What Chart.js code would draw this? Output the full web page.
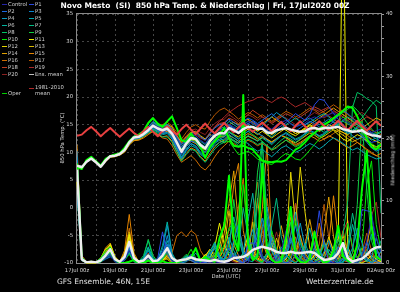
<!DOCTYPE html>
<html>
<head>
<meta charset="utf-8">
<script src="https://cdn.jsdelivr.net/npm/chart.js@4.4.1/dist/chart.umd.min.js"></script>
<style>
html, body { margin: 0; padding: 0; background: #000; }
#wrap { position: relative; width: 400px; height: 292px; overflow: hidden; background: #000; font-family: "DejaVu Sans", sans-serif; color: #d8d8d8; }
#c { position: absolute; left: 0; top: 0; }
.t { position: absolute; white-space: nowrap; line-height: 1; }
.lg { position: absolute; font-size: 5.3px; line-height: 1; white-space: nowrap; color: #d0d0d0; }
.lg i { position: absolute; left: -6px; top: 2.5px; width: 5px; height: 1px; }
</style>
</head>
<body>
<div id="wrap">
  <canvas id="c" width="400" height="292"></canvas>
  <div class="t" style="left:205px;top:2px;transform:translateX(-50%);font-weight:bold;font-size:7.5px;color:#fff">Novo Mesto&nbsp; (SI)&nbsp; 850 hPa Temp. &amp; Niederschlag | Fri, 17Jul2020 00Z</div>
  <div class="t" style="left:63px;top:138px;transform:translate(-50%,-50%) rotate(-90deg);font-size:5.3px">850 hPa Temp. (°C)</div>
  <div class="t" style="left:393px;top:160px;transform:translate(-50%,-50%) rotate(-90deg);font-size:5.3px">Niederschlag (mm)</div>
  <div class="t" style="left:226px;top:274px;transform:translateX(-50%);font-size:5.3px">Date (UTC)</div>
  <div class="t" style="left:57px;top:278px;font-size:7.5px;color:#e0e0e0">GFS Ensemble, 46N, 15E</div>
  <div class="t" style="left:306px;top:278px;font-size:7.5px;color:#e0e0e0">Wetterzentrale.de</div>
  <div id="legend"></div>
</div>
<script>
// forecast hours, 6-hourly from 17Jul 00z
const hours = [0,6,12,18,24,30,36,42,48,54,60,66,72,78,84,90,96,102,108,114,120,126,132,138,144,150,156,162,168,174,180,186,192,198,204,210,216,222,228,234,240,246,252,258,264,270,276,282,288,294,300,306,312,318,324,330,336,342,348,354,360,366,372,378,384];
const dateLabels = ['17Jul 00z','19Jul 00z','21Jul 00z','23Jul 00z','25Jul 00z','27Jul 00z','29Jul 00z','31Jul 00z','02Aug 00z'];

const memberNames = ['Control','P1','P2','P3','P4','P5','P6','P7','P8','P9','P10','P11','P12','P13','P14','P15','P16','P17','P18','P19','P20'];
const memberColors = ['#2424a8','#2848e0','#1c68e0','#0a84d0','#0898c0','#00a8b0','#00b4a0','#00bc84','#00c464','#10d040','#00ec00','#f0f000','#e4d400','#d8b800','#e0a000','#e48400','#cc6c00','#b85800','#c03c20','#a82828','#8c2020'];

// 850 hPa temperature (°C)
const tMean = [7.6,7.3,8.3,8.9,8.2,7.4,8.5,9.3,9.4,9.7,10.4,11.8,12.7,12.8,13.3,14.0,14.8,14.3,14.0,14.3,13.4,11.8,10.1,11.6,12.6,12.4,11.3,10.7,12.1,13.0,13.5,13.4,14.4,14.0,13.5,14.2,14.6,14.6,14.2,14.3,13.6,13.5,14.0,14.2,14.4,14.1,13.9,13.7,13.8,14.3,14.4,14.2,14.4,14.4,14.5,14.6,14.2,14.0,13.7,13.8,14.0,13.4,13.1,13.0,12.8];
const tClim = [13.0,13.2,14.0,14.6,13.8,12.9,13.7,14.4,13.6,12.8,13.6,14.3,13.5,12.9,13.8,14.6,13.7,12.9,13.9,14.7,13.9,13.2,14.2,15.0,14.1,13.3,14.3,15.2,14.2,13.4,14.4,15.3,14.4,13.6,14.5,15.3,14.5,13.7,14.6,15.4,14.6,13.8,14.7,15.5,14.6,13.8,14.8,15.6,14.7,13.9,14.8,15.6,14.8,14.0,14.9,15.7,14.8,14.0,14.9,15.7,14.7,13.9,14.8,15.6,14.8];
const tOper = [7.3,7.0,8.6,9.2,8.4,7.6,8.8,9.3,9.6,9.8,10.8,12.0,12.8,13.2,13.8,15.3,16.2,15.2,14.6,15.6,16.5,14.4,12.2,11.9,13.4,12.2,11.0,9.0,11.0,12.0,13.0,14.4,12.5,11.2,11.0,11.2,10.8,10.5,9.5,8.5,8.3,8.2,8.4,8.3,8.6,9.5,10.5,11.0,11.8,12.8,13.5,14.2,15.0,15.5,16.2,16.8,17.5,18.3,18.0,16.5,14.5,12.5,11.0,10.5,11.5];
const tControl = [7.7,7.4,8.4,9.0,8.3,7.5,8.6,9.4,9.5,9.8,10.5,11.9, 12.9,13.0,13.6,14.4,15.2,14.6,14.5,14.6,13.8, 12.5,10.8,11.9,13.1,13.0,12.2,11.6,12.8,13.6,14.2, 14.0,15.1,14.6,14.1,15.0,15.6,15.2,14.8,15.3,14.6,14.2,15.0,15.4,15.8,15.1,14.6,14.9,15.3,16.0,16.4,16.1,16.5,16.8,17.2,16.6,15.9,15.4,15.0,15.6,15.2,14.4,13.6,13.9,14.2];
const tP1 = [7.5,7.2,8.2,8.8,8.1,7.3,8.4,9.2,9.3,9.6,10.3,11.6, 12.5,12.6,13.1,13.8,14.5,14.0,13.6,14.0,13.0, 11.2,9.6,11.0,12.0,11.8,10.6,10.0,11.4,12.5,13.2, 13.6,14.8,14.2,13.6,14.6,15.2,15.6,15.0,14.6,14.0,13.4,14.2,14.8,15.4,16.2,17.0,16.4,15.8,16.8,18.6,19.6,19.4,18.2,17.0,16.0,15.0,14.2,13.6,13.8,13.0,12.4,11.8,12.0,12.8];
const tP2 = [7.6,7.3,8.3,8.9,8.2,7.4,8.5,9.3,9.5,9.8,10.6,12.0, 13.0,13.2,13.8,14.6,15.6,15.0,14.8,15.0,14.2, 12.8,11.4,12.4,13.4,13.6,12.8,12.2,13.4,14.4,15.0, 15.2,16.0,15.4,14.8,15.6,16.2,15.8,15.2,15.8,16.4,17.0,16.2,15.4,14.6,14.0,13.8,14.4,15.0,15.6,15.2,14.6,14.2,14.8,15.6,16.6,17.6,17.0,16.2,15.4,14.8,14.0,13.4,13.0,12.6];
const tP3 = [7.7,7.4,8.4,9.1,8.4,7.6,8.7,9.4,9.5,9.8,10.4,11.7, 12.6,12.7,13.2,13.9,14.6,14.0,13.4,13.6,12.6, 10.8,9.0,10.4,11.6,11.2,10.0,9.4,10.8,11.8,12.4, 12.8,13.6,13.0,12.4,13.2,13.8,14.0,13.4,13.0,12.2,11.6,12.4,13.0,13.4,12.8,12.2,12.6,13.4,14.0,13.6,13.0,13.4,14.2,14.8,15.4,14.6,13.8,13.0,12.4,12.8,11.8,10.8,10.2,10.6];
const tP4 = [7.5,7.2,8.2,8.8,8.1,7.3,8.4,9.2,9.4,9.7,10.4,11.8, 12.8,13.0,13.5,14.2,15.0,14.5,14.2,14.6,13.6, 12.0,10.4,11.8,12.8,12.6,11.6,11.0,12.4,13.4,14.0, 14.2,15.0,14.4,13.8,14.8,15.2,14.6,14.0,14.8,15.6,16.4,17.2,16.6,16.0,15.2,14.6,15.0,15.8,16.2,15.6,15.0,15.4,16.0,15.4,14.6,14.0,13.4,13.8,14.4,13.6,12.8,12.2,12.6,13.0];
const tP5 = [7.6,7.3,8.2,8.8,8.2,7.4,8.4,9.2,9.3,9.6,10.2,11.5, 12.4,12.5,13.0,13.6,14.2,13.6,13.2,13.4,12.4, 10.6,8.8,10.2,11.2,10.8,9.6,9.0,10.4,11.6,12.2, 12.4,13.2,12.6,12.0,12.0,11.6,10.8,10.2,10.6,9.8,9.2,10.0,10.8,11.2,10.6,10.0,10.4,11.0,11.6,11.2,10.6,11.2,12.0,12.6,12.2,11.6,11.0,10.4,10.8,10.2,9.6,9.2,8.8,9.0];
const tP6 = [7.7,7.4,8.4,9.0,8.3,7.5,8.6,9.4,9.5,9.8,10.6,12.0, 13.0,13.2,13.8,14.5,15.4,14.8,14.6,15.0,14.0, 12.6,11.0,12.2,13.2,13.0,12.0,11.4,12.8,13.6,14.2, 14.6,15.6,15.0,14.4,15.0,15.6,15.2,14.6,14.2,13.4,12.8,13.6,14.4,15.0,15.6,16.2,15.6,15.0,15.4,16.0,16.6,17.0,16.4,15.6,14.8,14.2,13.6,14.0,14.6,15.2,14.4,13.6,13.2,13.6];
const tP7 = [7.6,7.3,8.3,8.9,8.2,7.4,8.5,9.3,9.4,9.7,10.4,11.7, 12.6,12.7,13.2,13.8,14.4,13.8,13.4,13.6,12.8, 11.0,9.2,10.6,11.6,11.0,9.8,9.2,10.4,11.2,11.8, 12.0,12.8,12.2,11.6,12.4,13.0,12.6,12.0,12.6,12.0,11.4,12.2,13.0,13.6,13.0,12.4,12.8,13.4,14.0,14.6,14.2,13.6,14.0,14.6,15.2,15.8,16.4,15.8,15.0,14.2,13.6,13.0,12.4,12.0];
const tP8 = [7.5,7.2,8.3,8.9,8.2,7.4,8.5,9.3,9.4,9.7,10.3,11.6, 12.4,12.5,12.9,13.5,14.0,13.4,12.8,12.8,11.8, 10.0,8.4,9.6,10.6,10.2,9.0,8.2,9.4,10.6,11.4, 11.8,12.6,12.0,11.2,11.8,12.4,12.0,11.4,11.8,11.2,10.6,11.4,12.2,12.8,12.4,11.8,12.4,13.2,13.8,13.4,12.8,13.2,13.8,14.4,15.0,15.6,15.2,14.6,15.4,16.2,17.4,18.6,19.4,18.8];
const tP9 = [7.7,7.4,8.4,9.0,8.3,7.5,8.6,9.4,9.5,9.8,10.5,11.9, 12.8,12.9,13.4,14.2,15.0,14.4,14.0,14.2,13.2, 11.4,9.8,11.2,12.2,11.8,10.6,10.0,11.4,12.4,13.0, 13.0,13.8,13.2,12.4,13.2,13.8,13.2,12.6,12.0,11.2,10.4,10.8,11.6,12.2,11.6,11.0,11.4,12.2,13.0,13.6,14.2,14.8,15.4,16.0,16.6,17.2,17.8,18.4,17.6,16.6,15.4,14.2,13.4,13.8];
const tP10 = [7.4,7.1,8.2,8.9,8.1,7.3,8.4,9.3,9.5,9.8,10.5,11.9, 12.9,13.1,13.7,14.6,15.4,14.8,14.6,15.0,14.2, 12.4,10.6,11.8,12.8,12.4,11.2,10.4,11.6,12.4,12.8, 11.8,12.0,10.8,9.6,9.8,10.2,9.6,8.8,8.4,8.0,7.8,8.4,9.2,9.8,9.4,8.8,8.6,9.4,10.4,11.4,12.4,13.2,14.0,14.8,15.6,16.4,15.6,14.8,14.0,13.2,12.4,11.6,11.0,10.6];
const tP11 = [7.6,7.3,8.3,8.8,8.1,7.3,8.4,9.2,9.3,9.6,10.3,11.7, 12.6,12.8,13.3,14.0,14.8,14.2,13.8,14.2,13.4, 11.8,10.2,11.4,12.4,12.2,11.0,10.4,11.8,12.8,13.4, 13.6,14.4,14.0,13.4,14.2,14.8,14.4,13.8,14.4,13.8,13.2,13.8,14.4,14.0,13.4,13.0,13.6,14.2,14.8,14.4,13.8,14.2,14.6,14.0,13.2,12.4,12.0,12.6,13.2,12.8,12.0,11.4,11.0,11.4];
const tP12 = [7.5,7.2,8.2,8.8,8.1,7.3,8.4,9.2,9.3,9.6,10.2,11.5, 12.4,12.5,13.0,13.8,14.6,14.0,13.8,14.0,13.0, 11.4,9.8,11.0,12.0,11.6,10.6,10.0,11.2,12.2,12.8, 12.8,13.6,13.2,12.8,13.6,14.2,13.8,13.2,13.8,13.2,12.6,13.2,13.8,14.4,14.0,13.4,13.8,14.4,15.0,14.6,14.0,14.4,15.0,14.6,14.0,13.6,13.2,13.8,14.2,13.6,13.0,12.4,12.0,11.6];
const tP13 = [7.7,7.4,8.4,9.0,8.3,7.5,8.6,9.4,9.5,9.8,10.4,11.8, 12.8,13.0,13.5,14.3,15.2,14.8,14.6,15.0,14.6, 13.0,11.8,12.8,13.6,13.8,13.0,12.4,13.2,12.8,12.2, 11.7,12.5,12.1,11.7,12.3,12.9,12.5,12.1,12.7,12.3,11.9,12.5,13.1,12.7,12.1,11.7,12.3,12.9,13.5,13.1,12.5,12.9,13.5,14.1,13.7,13.1,12.5,11.9,12.3,12.7,12.1,11.3,10.7,11.1];
const tP14 = [7.6,7.3,8.3,8.9,8.2,7.4,8.5,9.2,9.3,9.5,10.1,11.4, 12.2,12.3,12.8,13.6,14.2,13.8,13.6,13.8,13.0, 11.6,10.2,11.2,12.2,12.0,11.0,10.4,11.8,12.8,13.6, 14.0,15.0,15.4,15.0,15.6,16.0,15.4,14.8,15.2,15.8,16.4,15.8,15.2,14.6,14.0,13.4,13.8,14.4,15.0,15.6,16.2,16.8,17.4,18.0,17.4,16.8,16.2,15.6,15.0,14.4,15.0,15.6,16.2,15.8];
const tP15 = [7.5,7.2,8.2,8.8,8.1,7.3,8.3,9.1,9.2,9.5,10.0,11.3, 12.1,12.2,12.6,13.2,13.8,13.2,12.8,13.0,12.0, 10.2,8.6,9.8,10.8,10.4,9.2,8.4,9.8,11.0,11.8, 12.2,13.0,12.6,12.0,12.8,13.4,13.0,12.4,13.0,12.4,11.8,12.4,13.0,12.6,12.0,11.4,11.8,12.4,13.0,12.6,12.0,12.4,13.0,12.6,12.0,11.4,10.8,11.2,11.8,11.2,10.4,9.8,9.4,9.8];
const tP16 = [7.6,7.3,8.3,8.9,8.2,7.4,8.4,9.2,9.3,9.6,10.2,11.5, 12.3,12.4,12.9,13.4,13.8,13.2,12.6,12.4,11.2, 9.6,8.2,8.8,9.4,8.6,7.4,6.8,7.8,9.2,10.4, 11.2,12.0,11.6,11.0,11.6,12.2,11.8,11.2,11.6,11.0,10.4,11.0,11.6,12.2,11.8,11.2,11.6,12.2,12.8,13.4,13.0,12.4,12.8,13.4,14.0,13.6,13.0,12.4,11.8,11.2,10.6,10.0,9.4,9.0];
const tP17 = [7.7,7.4,8.4,9.0,8.3,7.5,8.6,9.4,9.5,9.8,10.6,12.0, 13.0,13.2,13.8,14.6,15.4,15.0,15.0,15.4,14.8, 13.6,12.4,13.6,14.6,15.0,14.4,14.2,15.6,16.8,17.6, 18.0,17.4,16.8,16.0,16.6,17.2,16.8,16.2,16.8,16.2,15.6,16.2,16.8,17.4,17.0,16.4,16.8,17.4,18.0,17.6,17.0,17.4,18.0,18.6,18.0,17.4,16.8,16.2,15.6,15.0,14.4,14.0,13.6,13.2];
const tP18 = [7.6,7.3,8.3,8.9,8.2,7.4,8.5,9.3,9.4,9.7,10.4,11.8, 12.8,12.9,13.4,14.2,15.0,14.6,14.4,14.8,14.2, 13.0,11.6,12.6,13.6,13.6,12.8,12.4,13.6,14.6,15.2, 15.4,16.2,15.8,15.2,16.0,16.8,17.6,17.0,16.4,15.8,15.2,15.8,16.4,17.0,16.6,16.0,16.4,17.0,17.6,18.2,17.8,17.2,16.6,16.0,15.4,14.8,14.2,14.6,15.2,15.8,16.4,16.0,15.4,15.0];
const tP19 = [7.5,7.2,8.2,8.8,8.1,7.3,8.4,9.2,9.3,9.6,10.3,11.7, 12.6,12.7,13.2,14.0,14.8,14.4,14.2,14.6,13.8, 12.4,11.0,12.0,13.0,13.2,12.6,12.2,13.4,14.6,15.6, 16.4,17.2,17.8,18.4,18.8,19.2,19.4,19.9,20.0,19.4,19.0,19.6,20.0,19.6,18.8,18.2,18.6,19.0,18.4,17.8,17.4,17.8,18.2,17.6,17.0,16.4,15.8,15.2,14.6,14.2,13.8,13.4,13.0,12.6];
const tP20 = [7.7,7.4,8.4,9.0,8.3,7.5,8.6,9.4,9.5,9.8,10.5,11.9, 12.9,13.0,13.6,14.4,15.2,14.8,14.6,15.0,14.4, 13.2,12.0,13.0,14.0,14.2,13.6,13.2,14.4,15.2,15.8, 16.0,16.8,16.2,15.6,16.2,16.8,16.4,15.8,16.4,16.0,15.4,16.0,16.6,16.2,15.6,15.0,15.4,16.0,16.6,17.2,16.8,16.2,16.8,17.4,17.0,16.4,15.8,16.2,16.8,17.2,16.6,16.0,15.4,15.8];

// precipitation per 6 h (mm)
const rMean = [15,0.6,0.1,0.2,0.1,0.4,1.2,2.2,0.6,0.2,1.0,3.4,0.8,0.2,0.4,1.2, 0.3,0.4,1.2,2.4,0.8,0.3,0.5,0.6,0.9,0.6,0.5,0.4,0.3,0.5,0.3,0.2, 0.4,0.8,0.9,1.0,1.4,2.1,2.4,2.6,2.4,2.2,1.8,1.6,1.6,1.8,1.6,1.6, 1.7,1.8,1.6,1.0,0.5,0.6,0.8,1.6,3.2,0.8,0.2,0.5,0.7,1.3,2.1,2.5,2.6];
const rOper = [16,0.8,0,0.2,0,0.3,1.2,1.9,0.6,0,0,0.2,0.5,0,0,0.4, 0,0,0.3,0,0,0,0.4,0.6,0.8,2.4,0.3,1.0,0.4,0.2,4.0,6.0, 14.0,4.0,2.0,27.0,3.0,0.5,1.0,16.0,2.0,0.5,0,0.3,4.0,9.0,1.0,0.2, 0,0.6,5.0,1.0,0,0.3,2.0,6.0,1.0,0.4,0,3.0,12.0,18.0,6.0,1.0,0.5];
const rControl = [14,0.6,0,0,0,0.2,0.8,1.2,0.2,0,0.4,2.0,0.6,0,0.2,0.8, 0,0.2,1.6,2.2,0.4,0,0.2,0.4,0.6,0.2,0,0.3,0,0.2,0,0, 0.2,0.8,1.4,0.6,0,2.2,3.8,1.0,0.2,0,0.6,1.8,5.2,2.0,0.8,2.4, 1.0,0.2,0,0.4,0.2,0,0,1.2,2.0,0.4,0,0,0.8,3.6,7.4,4.2,1.8];
const rP1 = [16,0.8,0,0.2,0,0.3,1.0,1.6,0.4,0,0.6,2.6,0.8,0.2,0,0.6, 0.2,0.8,5.0,1.4,0.2,0,0.3,0.6,1.2,0.8,0.2,0,0.4,0.6,0,0.2, 0.6,1.2,0.4,0,3.2,3.2,3.0,0.8,0,0.4,1.4,0.6,0,0.2,1.0,0.6, 0,0.4,2.6,8.4,3.0,0.4,0,0,0.8,0.2,0,1.6,8.6,8.4,8.2,2.4,0.6];
const rP2 = [12,0.4,0,0,0.2,0.6,1.4,2.0,0.6,0,0.8,3.0,0.6,0,0.4,1.2, 0.2,0.4,1.8,3.0,0.8,0.2,0.6,0.8,0.4,0,0,0.2,0.6,1.0,0.4,0.8, 2.4,1.0,0.2,0,0.6,2.0,5.6,2.4,7.0,2.2,0.2,0.8,2.2,4.0,1.6,0.2, 0,0.6,1.8,0.8,0,0,0.4,2.6,1.2,0.2,0,0.6,1.4,3.4,1.0,0.2,0];
const rP3 = [18,1.0,0.2,0,0,0.2,0.6,1.0,0.4,0.2,1.2,2.8,0.4,0,0.6,2.0, 0.4,0,1.2,4.4,1.0,0,0.2,0.6,1.4,0.6,0,0.4,1.6,2.2,0.6,0.2, 0.8,3.6,6.2,2.0,0.4,1.2,4.6,7.2,3.0,0.6,0,0.4,1.0,3.4,6.0,2.4, 0.6,0,0.8,2.2,0.6,0,1.4,4.8,2.0,0.4,0,0.2,1.0,0.6,0,0.4,1.2];
const rP4 = [13,0.6,0,0.2,0,0.4,1.2,1.8,0.6,0,0.6,2.2,1.0,0.2,0.2,1.0, 0,0.6,2.2,6.0,1.4,0,0,0.2,0.8,1.6,0.4,0,1.0,3.2,0.8,0, 0.4,1.6,0.6,0,2.8,5.4,2.0,0.6,1.4,4.2,1.8,0.2,0,0.6,2.8,6.4, 2.6,0.6,0,0.4,1.8,3.6,1.2,0,0.2,0.8,2.4,5.6,3.2,0.8,0,0.6,2.0];
const rP5 = [15,0.8,0,0,0,0.2,0.8,1.4,0.2,0,0.4,1.8,0.6,0.2,0.8,2.6, 0.6,0,1.0,3.6,0.8,0.2,0.4,1.2,0.6,0,0,0.6,2.0,3.0,1.0,0.4, 3.0,7.4,4.0,1.2,0.4,0.2,1.6,5.8,9.0,3.4,1.0,0.2,0.8,4.4,8.2,3.6, 1.0,0.4,0,1.2,3.4,1.6,0.4,0,0.6,2.2,0.8,0,0.4,1.8,4.6,2.0,0.6];
const rP6 = [11,0.4,0.2,0,0,0.4,1.0,2.4,0.8,0,0.8,2.4,0.4,0,0.4,1.4, 0.2,0.4,2.8,6.6,1.6,0.2,0,0.4,0.6,0.2,0.4,1.0,0.4,0.2,0.6,1.4, 4.2,2.0,0.6,1.6,6.8,11.2,4.6,1.2,0.4,0,0.8,2.6,1.4,0.4,0,0.6, 2.2,5.6,2.4,0.6,0,0.4,1.6,0.8,0.2,1.8,6.2,3.0,1.0,0.2,0.8,4.0,1.6];
const rP7 = [17,0.8,0,0,0.2,0.6,1.6,2.2,0.4,0,0.6,1.6,0.2,0,0.6,2.4, 0.8,0.2,0.6,2.2,0.6,0,0.4,1.0,0.8,0.2,0,0.2,1.2,2.6,0.8,0.6, 1.8,0.8,2.6,8.8,4.4,1.2,0.4,0,1.2,6.0,10.4,4.2,1.4,0.4,0,0.8, 3.2,1.2,0.4,0,0.8,2.2,1.0,0.4,0,2.6,8.0,4.2,1.2,0.4,0.2,1.4,3.6];
const rP8 = [12,0.6,0,0,0,0.2,0.8,1.2,0.6,0.2,1.0,3.0,0.8,0.2,1.2,3.6, 0.8,0.2,1.4,3.0,0.8,0,0.2,0.4,0.6,0.2,0,0.4,0.8,1.6,3.2,1.0, 0.4,2.4,5.0,1.8,0.6,1.4,9.6,19.4,7.6,2.0,0.6,0.2,1.2,3.8,1.4,0.4, 0,0.6,2.4,1.0,0.2,0,0.8,2.8,4.6,10.0,25.0,27.4,27.0,26.4,26.0,25.2,8.0];
const rP9 = [16,1.0,0.2,0,0,0.4,1.4,2.0,0.6,0.2,0.8,2.2,0.4,0,0.8,3.8, 1.2,0.2,0.8,1.8,0.4,0,0.6,1.4,0.8,0.2,0,0.6,1.8,3.4,1.2,0.4, 2.0,10.2,4.4,1.2,0.8,3.4,14.6,19.6,6.0,1.8,0.6,0.2,2.0,6.6,2.4,0.8, 0.2,1.2,4.8,2.0,0.4,0,1.0,3.8,1.6,0.4,1.6,9.4,23.0,12.0,3.6,1.0,0.4];
const rP10 = [14,0.6,0,0,0.2,0.8,2.0,2.6,0.8,0,0.4,1.4,0.2,0,0.6,2.2, 0.4,0,0.6,1.6,0.4,0,0.2,0.8,2.2,0.8,0.2,0,0.4,1.2,1.2,3.0, 5.6,6.4,2.2,12.6,4.0,1.0,0.4,0.2,1.6,5.2,2.2,0.6,0,1.4,6.8,3.2, 1.0,0.2,0,0.8,3.0,1.2,0.4,0,1.8,6.4,2.6,0.8,2.4,12.6,16.4,6.2,2.0];
const rP11 = [13,0.4,0,0,0,0.6,1.8,3.0,1.0,0.2,1.2,4.6,1.0,0.2,0.4,1.2, 0.2,0,0.4,1.2,0.2,0,0.4,1.0,0.6,0,0.2,1.4,0.8,2.6,6.4,3.0, 1.2,0.4,0.2,1.6,4.4,1.4,0.6,0.2,0.8,3.2,1.0,0.2,0.6,2.0,0.8,0.2, 0,0.4,1.2,0.4,0,0.6,2.4,4.0,60.0,2.6,0.8,0.2,0,0.4,1.2,0.6,0.2];
const rP12 = [15,0.8,0.2,0,0.2,0.8,2.2,2.8,0.8,0,1.0,4.2,0.8,0,0.2,0.6, 0,0.2,0.8,0.6,0,0,0.2,0.6,0.4,0.2,0.6,1.2,2.2,1.0,2.4,6.6, 3.0,1.0,0.4,0,0.6,2.2,0.8,0.4,1.6,4.0,1.8,0.8,2.6,14.6,6.0,15.4, 8.2,2.4,0.6,0.2,1.4,4.2,2.0,0.6,3.0,1.4,0.4,0,0.6,1.6,0.6,0.2,0];
const rP13 = [12,0.4,0,0.2,0,0.4,1.4,2.2,0.6,0.2,1.6,5.0,1.2,0.2,0,0.4, 0.2,0,0.6,1.0,0.2,0,0.4,0.6,0.8,0.4,0.2,1.0,2.2,1.4,0.8,2.6, 8.4,3.0,1.2,0.4,0.8,6.6,2.4,0.6,0.2,1.2,4.0,1.6,0.4,0,1.4,4.4, 1.6,0.4,0,1.0,3.6,1.6,0.6,1.4,4.4,1.8,0.6,0.2,0.8,3.2,6.2,2.4,0.8];
const rP14 = [17,1.0,0.2,0,0,0.6,2.4,3.2,1.0,0.2,1.2,4.4,0.8,0,0.4,1.0, 0.2,0,0.4,0.8,0.2,0,0.2,0.6,0.4,0.2,0.4,0.8,1.6,0.6,1.4,4.8, 9.6,14.8,6.0,2.2,0.8,3.6,10.4,3.6,1.2,0.4,1.6,6.0,2.4,0.8,0.2,0.6, 2.8,7.0,3.0,1.0,4.8,10.6,4.2,1.2,0.4,0.2,0.8,2.8,1.0,0.2,0,0.6,1.8];
const rP15 = [19,1.2,0.2,0,0,0.4,1.6,2.6,0.8,0.2,2.0,7.8,1.6,0.2,0.2,0.8, 0.2,0,0.6,1.4,0.4,0,0.2,0.4,0.6,0.2,0,0.4,1.0,0.4,0.8,2.2, 5.4,12.6,16.0,5.2,1.6,0.6,2.8,8.6,19.0,3.4,0.2,0.4,2.2,7.4,2.6,0.8, 0.2,1.4,5.2,2.0,0.6,3.0,10.8,4.0,1.2,0.4,0,0.6,2.4,1.0,0.2,0,0.4];
const rP16 = [14,0.6,0,0,0.2,0.8,2.2,3.0,0.8,0,1.4,5.6,1.0,0.2,0.4,1.2, 0.4,0,0.2,0.8,1.6,4.4,5.0,4.2,5.2,4.6,2.0,0.8,0.4,1.2,3.0,1.2, 0.6,2.8,9.0,13.6,5.0,1.4,0.4,1.8,10.4,4.6,1.2,0.4,0.2,1.0,4.2,1.6, 0.4,0,1.6,6.4,2.4,0.8,0.2,1.2,5.2,2.0,0.6,0.2,0.6,2.2,0.8,0.2,0];
const rP17 = [16,0.8,0,0,0,0.4,1.4,2.0,0.6,0,1.0,4.0,0.6,0,0.2,0.6, 0,0.2,0.8,1.8,0.6,0,0.2,0.6,1.2,0.4,0,0.2,0.4,0.8,0.4,1.2, 3.4,1.2,0.4,0.2,1.8,7.2,13.0,5.2,1.6,0.4,0.2,0.8,3.6,8.0,3.2,1.0, 0.4,0.2,0.8,3.0,9.4,4.2,1.4,0.6,2.0,1.0,0.2,0.6,1.8,4.8,2.0,0.6,0.2];
const rP18 = [13,0.6,0,0.2,0,0.2,0.8,1.6,0.4,0,0.6,2.4,0.6,0.2,0.6,1.6, 0.2,0.4,1.2,2.0,0.6,0,0.2,0.4,0.8,0.2,0,0.4,0.8,0.4,0.2,0.6, 1.0,0.4,0.2,0.6,2.0,0.8,1.4,5.8,2.6,0.8,0.2,0.6,1.8,4.6,9.6,3.8, 1.2,0.4,0.2,1.0,0.6,0.2,0.8,2.4,5.0,6.8,2.4,0.8,0.2,0.4,1.6,0.6,0.2];
const rP19 = [18,1.0,0.2,0,0,0.4,1.2,1.8,0.6,0,0.8,3.2,0.8,0,0.4,1.2, 0.4,0.2,0.8,1.4,0.4,0,0.2,0.4,0.6,0.2,0,0.2,0.6,0.4,0,0.2, 0.6,0.2,0,0.4,1.2,0.6,0.2,0,0.4,1.0,0.4,0,0.6,1.8,0.8,0.2, 0,0.4,1.2,0.6,0,0.2,0.8,0.4,1.4,6.8,2.2,1.0,0.4,2.6,7.6,9.8,4.0];
const rP20 = [15,0.6,0,0,0.2,0.4,1.0,1.6,0.4,0,0.6,2.6,0.4,0,0.2,0.8, 0.2,0,0.6,1.2,0.4,0,0.4,0.8,0.4,0,0.2,0.6,1.0,0.6,0.2,0.4, 1.2,0.6,0.2,0,0.8,2.6,1.2,0.4,0.6,2.4,5.0,2.2,0.6,0.2,9.6,4.0, 0.6,0.2,0,0.4,1.6,0.6,0.2,0.8,2.6,1.2,0.4,0,0.2,0.8,0.4,0.2,0];

const memberTemps = [tControl,tP1,tP2,tP3,tP4,tP5,tP6,tP7,tP8,tP9,tP10,tP11,tP12,tP13,tP14,tP15,tP16,tP17,tP18,tP19,tP20];
const memberRain = [rControl,rP1,rP2,rP3,rP4,rP5,rP6,rP7,rP8,rP9,rP10,rP11,rP12,rP13,rP14,rP15,rP16,rP17,rP18,rP19,rP20];

const MEAN_COL = '#eeeeee';
const OPER_COL = '#00ff00';
const CLIM_COL = '#e84040';

// legend (two columns on the left)
const legend = document.getElementById('legend');
function addLegend(x, y, color, text) {
  const d = document.createElement('div');
  d.className = 'lg';
  d.style.left = x + 'px';
  d.style.top = (y - 2.7) + 'px';
  d.innerHTML = '<i style="background:' + color + '"></i>' + text;
  legend.appendChild(d);
}
memberNames.forEach((n, k) => {
  const row = Math.floor(k / 2);
  addLegend(k % 2 === 0 ? 8 : 35, 4.3 + row * 7, memberColors[k], n);
});
addLegend(35, 74.3, '#c0c0c0', 'Ens. mean');
addLegend(35, 88, '#b02828', '1981-2010<br>mean');
addLegend(8, 93.6, '#00d000', 'Oper');

const toPts = arr => hours.map((h, i) => ({ x: h, y: arr[i] }));
function series(arr, color, width, axis, extra) {
  return Object.assign({
    data: toPts(arr), borderColor: color, borderWidth: width, yAxisID: axis,
    pointRadius: 0, tension: 0, fill: false, borderJoinStyle: 'round'
  }, extra || {});
}

const datasets = [
  series(tMean, MEAN_COL, 2.5, 'y'),
  series(tClim, CLIM_COL, 2, 'y'),
  series(rMean, MEAN_COL, 2.5, 'y1'),
  series(tOper, OPER_COL, 2, 'y'),
  series(rOper, OPER_COL, 2, 'y1')
];
memberTemps.forEach((a, k) => datasets.push(series(a, memberColors[k], 1, 'y')));
memberRain.forEach((a, k) => datasets.push(series(a, memberColors[k], 1, 'y1', k === 11 ? { clip: false } : {})));

const framePlugin = {
  id: 'frame',
  beforeDatasetsDraw(chart) {
    const { ctx, chartArea: a } = chart;
    ctx.save();
    ctx.strokeStyle = '#8a8a8a';
    ctx.lineWidth = 1;
    ctx.strokeRect(a.left - 0.5, a.top - 0.5, a.right - a.left + 1, a.bottom - a.top + 1);
    ctx.restore();
  }
};

const tickFont = { family: 'DejaVu Sans', size: 5.3 };

new Chart(document.getElementById('c'), {
  type: 'line',
  data: { datasets },
  plugins: [framePlugin],
  options: {
    responsive: false,
    animation: false,
    devicePixelRatio: 1,
    layout: { padding: { top: 14, left: 0, right: 0, bottom: 0 } },
    plugins: { legend: { display: false }, tooltip: { enabled: false } },
    scales: {
      x: {
        type: 'linear', min: 0, max: 384,
        afterFit: s => { s.height = 29; },
        ticks: {
          stepSize: 24, maxTicksLimit: 100, autoSkip: false, maxRotation: 0,
          color: '#d8d8d8', font: tickFont, padding: 4,
          callback: v => (v % 48 === 0 ? dateLabels[v / 48] : '')
        },
        grid: { color: '#454545', drawTicks: false },
        border: { display: false, dash: [2, 3] }
      },
      y: {
        position: 'left', min: -10, max: 35,
        afterFit: s => { s.width = 77; },
        ticks: { stepSize: 5, color: '#d8d8d8', font: tickFont, padding: 4 },
        grid: { color: '#454545', drawTicks: false },
        border: { display: false, dash: [2, 3] }
      },
      y1: {
        position: 'right', min: 0, max: 40,
        afterFit: s => { s.width = 19; },
        ticks: {
          stepSize: 2, maxTicksLimit: 100, autoSkip: false, color: '#d8d8d8', font: tickFont, padding: 2,
          callback: v => (v % 10 === 0 ? String(v) : '')
        },
        grid: { drawOnChartArea: false, color: '#9a9a9a', tickLength: 3 },
        border: { display: false }
      }
    }
  }
});
</script>
</body>
</html>
